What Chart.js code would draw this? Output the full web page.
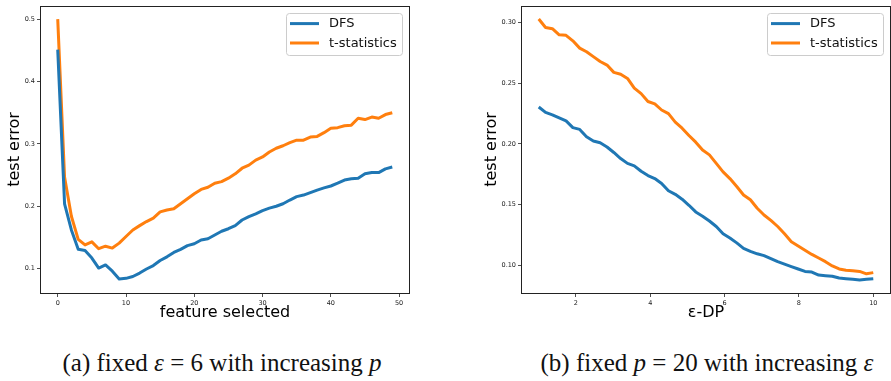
<!DOCTYPE html>
<html>
<head>
<meta charset="utf-8">
<script src="https://cdn.jsdelivr.net/npm/chart.js@4/dist/chart.umd.min.js"></script>
<style>
	html, body { margin: 0; padding: 0; background: #fff; overflow: hidden; }
	#wrap { position: relative; width: 891px; height: 381px; }
	canvas { position: absolute; top: 0; }
	#chart-a { left: 0; }
	#chart-b { left: 440px; }
	.cap { position: absolute; top: 349px; transform: translateX( -50% ); white-space: nowrap;
		font-family: 'Liberation Serif', 'Times New Roman', serif; font-size: 25px; color: #111; }
</style>
</head>
<body>
<div id="wrap">
	<canvas id="chart-a" width="430" height="330"></canvas>
	<canvas id="chart-b" width="451" height="330"></canvas>
	<div class="cap" style="left:222px">(a) fixed <i>ε</i> = 6 with increasing <i>p</i></div>
	<div class="cap" style="left:707px">(b) fixed <i>p</i> = 20 with increasing <i>ε</i></div>
</div>
<script>
/* global Chart */
( function () {
	'use strict';

	// (a) number of features selected, 0..49
	var featureCounts = [ 0, 1, 2, 3, 4, 5, 6, 7, 8, 9, 10, 11, 12, 13, 14, 15, 16, 17, 18, 19,
		20, 21, 22, 23, 24, 25, 26, 27, 28, 29, 30, 31, 32, 33, 34, 35, 36, 37, 38, 39,
		40, 41, 42, 43, 44, 45, 46, 47, 48, 49 ];
	var dfsA = [ 0.451, 0.204, 0.162, 0.131, 0.129, 0.117, 0.101, 0.106, 0.096, 0.0835,
		0.0845, 0.0875, 0.093, 0.0995, 0.105, 0.113, 0.119, 0.126, 0.131, 0.137,
		0.140, 0.146, 0.148, 0.154, 0.160, 0.164, 0.169, 0.178, 0.1835, 0.188,
		0.193, 0.197, 0.200, 0.204, 0.210, 0.2155, 0.218, 0.222, 0.226, 0.2295,
		0.2325, 0.237, 0.242, 0.244, 0.245, 0.252, 0.254, 0.254, 0.260, 0.263 ];
	var tstatA = [ 0.500, 0.247, 0.184, 0.147, 0.138, 0.143, 0.132, 0.136, 0.133, 0.141,
		0.1515, 0.162, 0.169, 0.1755, 0.181, 0.191, 0.194, 0.196, 0.204, 0.212,
		0.220, 0.227, 0.2305, 0.237, 0.2395, 0.245, 0.252, 0.261, 0.266, 0.274,
		0.279, 0.287, 0.293, 0.297, 0.302, 0.306, 0.306, 0.311, 0.312, 0.318,
		0.325, 0.326, 0.329, 0.330, 0.341, 0.339, 0.343, 0.341, 0.347, 0.350 ];

	// (b) epsilon values, 1..10
	var epsValues = [ 1.000, 1.184, 1.367, 1.551, 1.735, 1.918, 2.102, 2.286, 2.469, 2.653,
		2.837, 3.020, 3.204, 3.388, 3.571, 3.755, 3.939, 4.122, 4.306, 4.490,
		4.673, 4.857, 5.041, 5.224, 5.408, 5.592, 5.776, 5.959, 6.143, 6.327,
		6.510, 6.694, 6.878, 7.061, 7.245, 7.429, 7.612, 7.796, 7.980, 8.163,
		8.347, 8.531, 8.714, 8.898, 9.082, 9.265, 9.449, 9.633, 9.816, 10.000 ];
	var dfsB = [ 0.2305, 0.226, 0.224, 0.2215, 0.219, 0.2135, 0.212, 0.206, 0.2025, 0.201,
		0.1975, 0.193, 0.188, 0.184, 0.182, 0.1775, 0.174, 0.1715, 0.1675, 0.1615,
		0.1585, 0.1545, 0.1495, 0.144, 0.1405, 0.1365, 0.132, 0.126, 0.1225, 0.1185,
		0.114, 0.1115, 0.1095, 0.108, 0.1055, 0.103, 0.101, 0.099, 0.097, 0.095,
		0.0945, 0.092, 0.0915, 0.091, 0.0895, 0.089, 0.0885, 0.088, 0.0885, 0.089 ];
	var tstatB = [ 0.303, 0.296, 0.295, 0.290, 0.2895, 0.285, 0.279, 0.276, 0.272, 0.268,
		0.265, 0.259, 0.2575, 0.254, 0.246, 0.2415, 0.235, 0.233, 0.228, 0.225,
		0.218, 0.213, 0.207, 0.2015, 0.195, 0.191, 0.184, 0.177, 0.1715, 0.165,
		0.158, 0.154, 0.147, 0.1415, 0.137, 0.132, 0.126, 0.1195, 0.116, 0.1125,
		0.109, 0.106, 0.103, 0.0995, 0.097, 0.096, 0.0955, 0.095, 0.093, 0.094 ];

	var xTicksA = [ 0, 10, 20, 30, 40, 50 ];
	var yTicksA = [ 0.1, 0.2, 0.3, 0.4, 0.5 ];
	var xTicksB = [ 2, 4, 6, 8, 10 ];
	var yTicksB = [ 0.10, 0.15, 0.20, 0.25, 0.30 ];

	var blue = '#1f77b4';
	var orange = '#ff7f0e';
	var ink = '#222';

	function pts( xs, ys ) {
		return ys.map( function ( v, i ) { return { x: xs[ i ], y: v }; } );
	}

	function line( label, color, data ) {
		return {
			label: label,
			data: data,
			borderColor: color,
			backgroundColor: color,
			borderWidth: 3,
			pointRadius: 0,
			tension: 0,
			borderJoinStyle: 'round',
			borderCapStyle: 'butt',
			fill: false,
		};
	}

	// matplotlib-like box around the plot and a legend inside the upper right
	var framePlugin = {
		id: 'frame',
		afterDatasetsDraw: function ( chart ) {
			var ctx = chart.ctx;
			var a = chart.chartArea;
			ctx.save();
			ctx.strokeStyle = ink;
			ctx.lineWidth = 1;
			ctx.strokeRect( Math.round( a.left ) - 0.5, Math.round( a.top ) + 0.5,
				Math.round( a.right - a.left ) + 1, Math.round( a.bottom - a.top ) );

			var w = 116, h = 42;
			var lx = a.right - 7 - w, ly = a.top + 7;
			ctx.beginPath();
			ctx.roundRect( lx + 0.5, ly + 0.5, w, h, 3 );
			ctx.fillStyle = 'rgba(255,255,255,0.8)';
			ctx.fill();
			ctx.strokeStyle = '#cccccc';
			ctx.stroke();

			ctx.font = '13px "DejaVu Sans"';
			ctx.textBaseline = 'middle';
			chart.data.datasets.forEach( function ( ds, i ) {
				var y = ly + 10.6 + i * 19.4;
				ctx.beginPath();
				ctx.moveTo( lx + 4, y );
				ctx.lineTo( lx + 33, y );
				ctx.strokeStyle = ds.borderColor;
				ctx.lineWidth = 3;
				ctx.stroke();
				ctx.fillStyle = '#111';
				ctx.fillText( ds.label, lx + 43, y + 0.5 );
			} );
			ctx.restore();
		},
	};

	function makeOpts( cfg ) {
		var tickFont = { family: 'DejaVu Sans', size: 6.5 };
		var titleFont = { family: 'DejaVu Sans', size: 16 };
		return {
			responsive: false,
			animation: false,
			events: [],
			layout: { padding: { left: 0, right: cfg.padRight, top: 6, bottom: 0 } },
			plugins: { legend: { display: false }, tooltip: { enabled: false } },
			scales: {
				x: {
					type: 'linear',
					min: cfg.xMin,
					max: cfg.xMax,
					afterBuildTicks: function ( s ) { s.ticks = cfg.xTicks.map( function ( v ) { return { value: v }; } ); },
					afterFit: function ( s ) { s.height = 37; },
					grid: { drawOnChartArea: false, drawTicks: true, tickLength: 4, color: ink, lineWidth: 0.8 },
					border: { display: false },
					ticks: { font: tickFont, color: ink, padding: 2, maxRotation: 0,
						callback: function ( v ) { return String( v ); } },
					title: { display: true, text: cfg.xTitle, font: titleFont, color: '#000',
						padding: { top: 0, bottom: 7.4 } },
				},
				y: {
					type: 'linear',
					min: cfg.yMin,
					max: cfg.yMax,
					afterBuildTicks: function ( s ) { s.ticks = cfg.yTicks.map( function ( v ) { return { value: v }; } ); },
					afterFit: function ( s ) { s.width = cfg.yWidth; },
					grid: { drawOnChartArea: false, drawTicks: true, tickLength: 4, color: ink, lineWidth: 0.8 },
					border: { display: false },
					ticks: { font: tickFont, color: ink, padding: 2,
						callback: function ( v ) { return Number( v ).toFixed( cfg.yDigits ); } },
					title: { display: true, text: 'test error', font: titleFont, color: '#000',
						padding: { top: cfg.yTitlePad, bottom: 0 } },
				},
			},
		};
	}

	new Chart( document.getElementById( 'chart-a' ).getContext( '2d' ), {
		type: 'line',
		data: { datasets: [
			line( 'DFS', blue, pts( featureCounts, dfsA ) ),
			line( 't-statistics', orange, pts( featureCounts, tstatA ) ),
		] },
		options: makeOpts( {
			padRight: 21, yWidth: 41, yTitlePad: 5.4, yDigits: 1,
			xMin: -2.45, xMax: 51.45, yMin: 0.061, yMax: 0.521,
			xTicks: xTicksA, yTicks: yTicksA, xTitle: 'feature selected',
		} ),
		plugins: [ framePlugin ],
	} );

	new Chart( document.getElementById( 'chart-b' ).getContext( '2d' ), {
		type: 'line',
		data: { datasets: [
			line( 'DFS', blue, pts( epsValues, dfsB ) ),
			line( 't-statistics', orange, pts( epsValues, tstatB ) ),
		] },
		options: makeOpts( {
			padRight: 1, yWidth: 82, yTitlePad: 42.1, yDigits: 2,
			xMin: 0.55, xMax: 10.45, yMin: 0.0772, yMax: 0.3137,
			xTicks: xTicksB, yTicks: yTicksB, xTitle: 'ε-DP',
		} ),
		plugins: [ framePlugin ],
	} );
} )();
</script>
</body>
</html>
